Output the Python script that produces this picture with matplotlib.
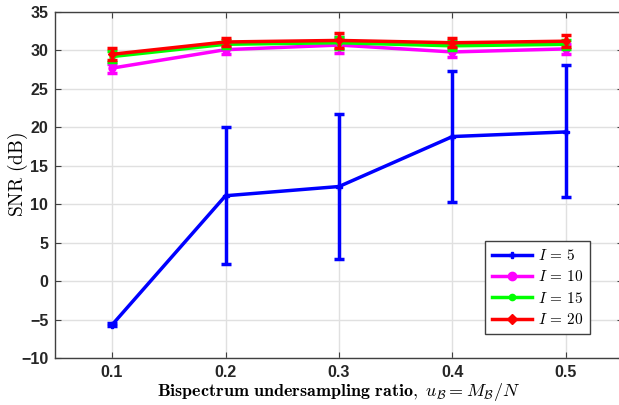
import numpy as np
import matplotlib.pyplot as plt
from matplotlib.lines import Line2D

plt.rcParams['mathtext.fontset'] = 'cm'

ratio = [0.1, 0.2, 0.3, 0.4, 0.5]

snr_i5 = [-5.7, 11.1, 12.3, 18.8, 19.4]
lo_i5 = [-5.9, 2.2, 2.9, 10.3, 10.9]
hi_i5 = [-5.5, 20.1, 21.7, 27.3, 28.1]

snr_i10 = [27.7, 30.1, 30.7, 29.8, 30.2]
err_i10 = [0.6, 0.6, 1.0, 0.7, 0.7]

snr_i15 = [29.2, 30.8, 31.0, 30.6, 30.8]
err_i15 = [0.7, 0.5, 0.8, 0.6, 0.6]

snr_i20 = [29.5, 31.1, 31.3, 31.0, 31.2]
err_i20 = [0.8, 0.5, 1.0, 0.6, 0.8]

fig = plt.figure(figsize=(6.19, 4.05), dpi=100)
ax = fig.add_axes([0.0893, 0.1161, 1.006 - 0.0893, 0.9704 - 0.1161])

ax.grid(True, color='#e0e0e0', linewidth=1.0, zorder=0)
ax.set_axisbelow(True)

lw = 2.5
series = [
    (snr_i5, None, '#0000ff', 'P', 4, r'$I\,=\,5$'),
    (snr_i10, err_i10, '#ff00ff', 'o', 5, r'$I\,=\,10$'),
    (snr_i15, err_i15, '#00ff00', 'o', 3.5, r'$I\,=\,15$'),
    (snr_i20, err_i20, '#ff0000', 'D', 4.5, r'$I\,=\,20$'),
]
yerr5 = [np.array(snr_i5) - np.array(lo_i5), np.array(hi_i5) - np.array(snr_i5)]

handles = []
for k, (y, e, c, m, ms, lab) in enumerate(series):
    err = yerr5 if e is None else e
    ax.errorbar(ratio, y, yerr=err, color=c, lw=lw, marker=m, ms=ms,
                capsize=3.8, capthick=lw, elinewidth=lw, zorder=3 + k)
    handles.append(Line2D([], [], color=c, lw=lw, marker=m, ms=ms + 1, label=lab))

ax.set_xlim(0.05, 0.55)
ax.set_ylim(-10, 35)
ax.set_xticks(ratio)
ax.set_xticklabels(['0.1', '0.2', '0.3', '0.4', '0.5'])
ax.set_yticks(np.arange(-10, 36, 5))
ax.tick_params(direction='in', top=True, right=True, length=4, color='#404040',
               labelsize=11.5, labelcolor='#262626', pad=5)
for lab in ax.get_xticklabels() + ax.get_yticklabels():
    lab.set_fontweight('bold')
    lab.set_family('Liberation Sans')
for s in ax.spines.values():
    s.set_color('#404040')
    s.set_linewidth(1.0)

ax.set_xlabel(r'$\mathbf{Bispectrum\ undersampling\ ratio,}\ u_{\mathcal{B}} = M_{\mathcal{B}}/N$',
              fontsize=13, labelpad=1)
ax.set_ylabel(r'$\mathrm{SNR\ (dB)}$', fontsize=14)
ax.yaxis.set_label_coords(-0.045, 0.532)

leg = ax.legend(handles=handles, loc='lower right', bbox_to_anchor=(0.942, 0.069),
                fontsize=11, handlelength=2.6, handletextpad=0.4, borderpad=0.45,
                labelspacing=0.42, fancybox=False, framealpha=1, edgecolor='#404040',
                borderaxespad=0)
leg.get_frame().set_linewidth(1.0)

fig.savefig('out.png', dpi=100)
